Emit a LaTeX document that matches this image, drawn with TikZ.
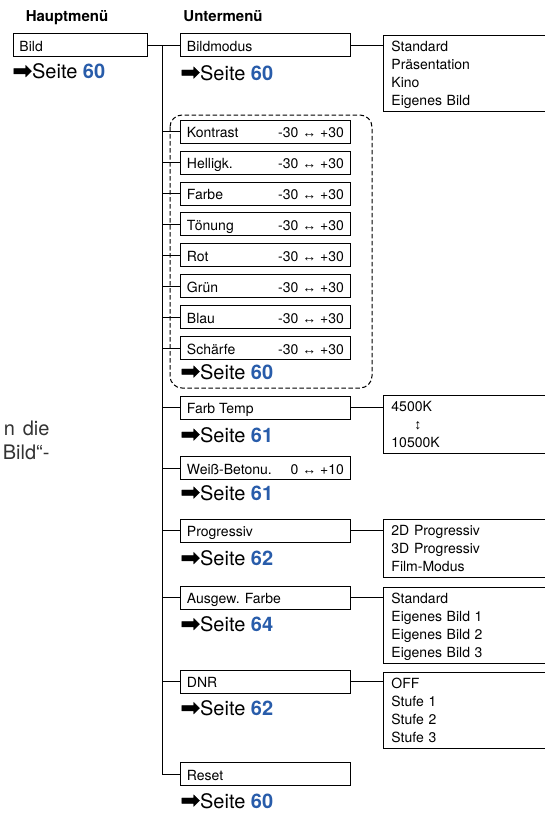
\documentclass[tikz,border=0pt]{standalone}
\usepackage{fontspec}
\setmainfont{TeX Gyre Heros}
\newfontfamily\arrowsfont{Liberation Sans}
\newfontfamily\pointerfont[FakeBold=1.5]{DejaVu Sans}
\usetikzlibrary{positioning}
\definecolor{pageblue}{RGB}{40,92,170}
\newcommand{\lr}{{\arrowsfont ↔}}
\newcommand{\pg}[1]{{\pointerfont\fontsize{23.5}{24}\selectfont ➡}Seite \textbf{\color{pageblue}#1}}
\newcommand{\mrow}[2]{\hbox to 157pt{#1\hfill#2}}
\newcommand{\ltop}{\rule{0pt}{16.5pt}}
\newcommand{\lbot}{\rule[-5.5pt]{0pt}{5.5pt}}

\begin{document}
\begin{tikzpicture}[x=1pt, y=-1pt, line width=0.9pt, head/.style={font=\fontsize{15}{18}\selectfont\bfseries, anchor=base, inner sep=0pt}, menubox/.style={draw, anchor=west, inner xsep=6.5pt, inner ysep=0pt, text height=17.5pt, text depth=5.5pt, font=\fontsize{14}{16}\selectfont}, listbox/.style={draw, anchor=north west, text width=170pt, align=left, inner xsep=8pt, inner ysep=0pt, font=\fontsize{14}{18}\selectfont}, pageref/.style={anchor=base west, inner sep=0pt, font=\fontsize{20}{24}\selectfont}, frag/.style={anchor=base east, inner sep=0pt, text=black!80, font=\fontsize{20}{24}\selectfont}, adjframe/.style={draw=black, line width=1pt, dash pattern=on 4.5pt off 2.5pt, rounded corners=12pt}]
\useasboundingbox (0,0) rectangle (545,814);
\node[head] (hm) at (67,21) {Hauptmenü};
\node[head] (um) at (223,21) {Untermenü};
\node[menubox] (bild) at (12.5,45) {\hbox to 121pt{Bild\hfill}};
\node[pageref] (bildpg) at (12,78.5) {\pg{60}};
\node[menubox] (bmod) at (180,45) {\mrow{Bildmodus}{}};
\node[pageref] (bmodpg) at (180,80) {\pg{60}};
\node[listbox] (bmodlist) at (383,35) {\ltop Standard\\Präsentation\\Kino\\Eigenes Bild\lbot};
\foreach \lab [count=\i] in {Kontrast,Helligk.,Farbe,Tönung,Rot,Grün,Blau,Schärfe}
  \node[menubox] (adj\i) at (180,{131.7+30.9*(\i-1)}) {\mrow{\lab}{-30 \lr{} +30}};
\node[pageref] (adjpg) at (180,379) {\pg{60}};
\draw[adjframe] (170,115) rectangle (372,388);
\node[menubox] (ftemp) at (180,407.5) {\mrow{Farb Temp}{}};
\node[pageref] (ftemppg) at (180,442) {\pg{61}};
\node[listbox] (ftemplist) at (383,395) {\ltop 4500K\\\hspace*{23pt}{\arrowsfont ↕}\\10500K\lbot};
\node[menubox] (weiss) at (180,468.3) {\mrow{Weiß-Betonu.}{0 \lr{} +10}};
\node[pageref] (weisspg) at (180,500) {\pg{61}};
\node[menubox] (prog) at (180,530.7) {\mrow{Progressiv}{}};
\node[pageref] (progpg) at (180,565.5) {\pg{62}};
\node[listbox] (proglist) at (383,519) {\ltop 2D Progressiv\\3D Progressiv\\Film-Modus\lbot};
\node[menubox] (ausg) at (180,597.7) {\mrow{Ausgew. Farbe}{}};
\node[pageref] (ausgpg) at (180,631.5) {\pg{64}};
\node[listbox] (ausglist) at (383,587) {\ltop Standard\\Eigenes Bild 1\\Eigenes Bild 2\\Eigenes Bild 3\lbot};
\node[menubox] (dnr) at (180,681.7) {\mrow{DNR}{}};
\node[pageref] (dnrpg) at (180,715.5) {\pg{62}};
\node[listbox] (dnrlist) at (383,672) {\ltop OFF\\Stufe 1\\Stufe 2\\Stufe 3\lbot};
\node[menubox] (reset) at (180,774.3) {\mrow{Reset}{}};
\node[pageref] (resetpg) at (180,808) {\pg{60}};
\node[frag] (frag1) at (50,435) {n\hspace{8pt}die};
\node[frag] (frag2) at (50,459.5) {Bild“-};
\coordinate (trunk) at (162.5,45);
\draw (bild.east) -- (bmod.west);
\draw (trunk) |- (reset.west);
\foreach \n in {adj1,adj2,adj3,adj4,adj5,adj6,adj7,adj8,ftemp,weiss,prog,ausg,dnr}
  \draw (trunk |- \n.west) -- (\n.west);
\draw (bmod.east) -- (bmod.east -| bmodlist.west);
\draw (ftemp.east) -- (ftemp.east -| ftemplist.west);
\draw (prog.east) -- (prog.east -| proglist.west);
\draw (ausg.east) -- (ausg.east -| ausglist.west);
\draw (dnr.east) -- (dnr.east -| dnrlist.west);
\end{tikzpicture}
\end{document}
